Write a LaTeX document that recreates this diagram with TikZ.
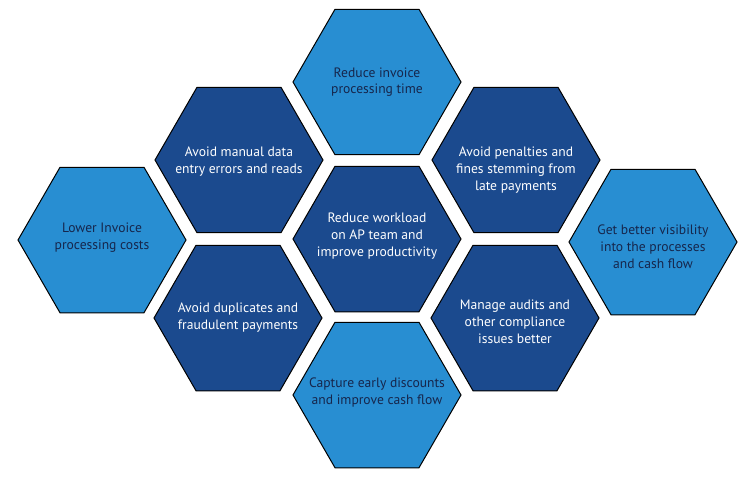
\documentclass[tikz,border=0pt]{standalone}
\usepackage{fontspec}
\setmainfont{PT Sans}
\usetikzlibrary{shapes.geometric}
\definecolor{lightblue}{RGB}{40,142,210}
\definecolor{darkblue}{RGB}{27,74,142}
\definecolor{navytext}{RGB}{22,38,76}
\tikzset{
  hexbase/.style={regular polygon, regular polygon sides=6, minimum size=168pt,
    inner sep=0pt, outer sep=0pt, draw=black, line width=1pt},
  hexlight/.style={hexbase, fill=lightblue},
  hexdark/.style={hexbase, fill=darkblue},
  lbl/.style={align=center, font=\fontsize{13.6}{17}\selectfont, inner sep=0pt},
  lbllight/.style={lbl, text=navytext},
  lbldark/.style={lbl, text=white},
}
\begin{document}
\begin{tikzpicture}[x=1pt,y=-1pt]
\useasboundingbox[fill=white] (0,0) rectangle (755,479);
% hexagons
\node[hexlight] (top) at (377,82) {};
\node[hexdark] (ul) at (239,160) {};
\node[hexdark] (ur) at (516,160) {};
\node[hexlight] (left) at (102,240) {};
\node[hexdark] (ctr) at (377,239) {};
\node[hexlight] (right) at (653,242) {};
\node[hexdark] (ll) at (238,318) {};
\node[hexdark] (lr) at (515,318) {};
\node[hexlight] (bot) at (377,395) {};
% labels
\node[lbllight, font=\fontsize{13.6}{15.5}\selectfont] (ttop) at (top) {Reduce invoice\\processing time};
\node[lbldark] (tul) at ([yshift=-2pt]ul) {Avoid manual data\\entry errors and reads};
\node[lbldark] (tur) at ([yshift=-10pt]ur) {Avoid penalties and\\fines stemming from\\late payments};
\node[lbllight] (tleft) at ([yshift=2pt]left) {Lower Invoice\\processing costs};
\node[lbldark] (tctr) at ([yshift=3pt]ctr) {Reduce workload\\on AP team and\\improve productivity};
\node[lbllight] (tright) at ([yshift=-5pt]right) {Get better visibility\\into the processes\\and cash flow};
\node[lbldark] (tll) at ([yshift=0pt]ll) {Avoid duplicates and\\fraudulent payments};
\node[lbldark] (tlr) at ([yshift=-4pt]lr) {Manage audits and\\other compliance\\issues better};
\node[lbllight] (tbot) at ([yshift=2pt]bot) {Capture early discounts\\and improve cash flow};
\end{tikzpicture}
\end{document}
